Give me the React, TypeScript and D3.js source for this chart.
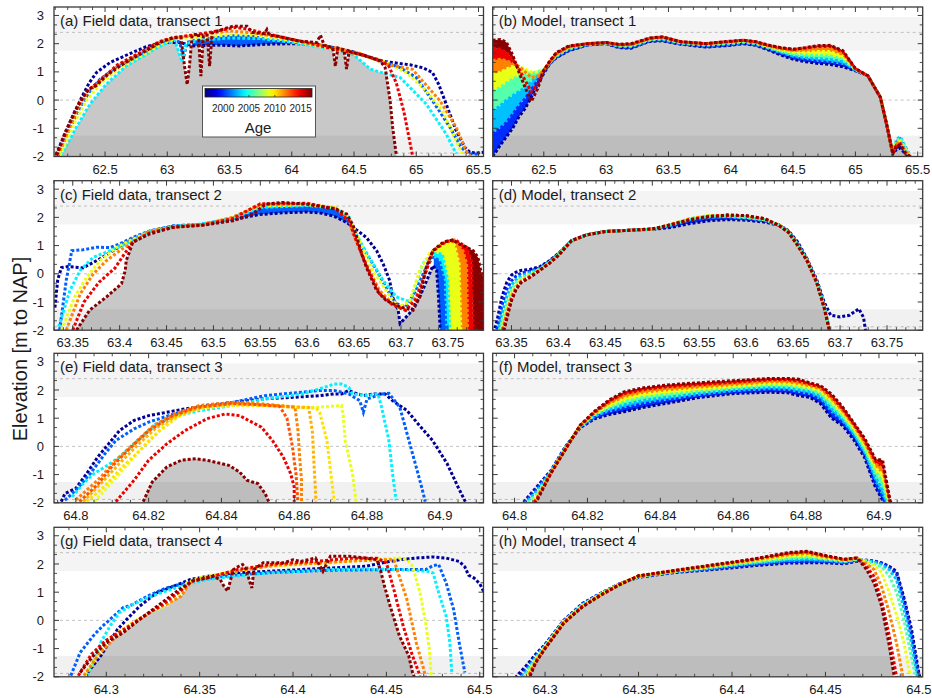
import React from 'react';
import * as d3 from 'd3';

type Pt = [number, number];

// ================= colour scale (age) =================
const AGE_MIN = 1996.5;
const AGE_MAX = 2017.2;
const ageTicks = [2000, 2005, 2010, 2015];

// ================= axis ticks =================
const yMajor = [-2, -1, 0, 1, 2, 3];
const ticksT1 = [62.5, 63, 63.5, 64, 64.5, 65, 65.5];
const ticksT2 = [63.35, 63.4, 63.45, 63.5, 63.55, 63.6, 63.65, 63.7, 63.75];
const ticksT3 = [64.8, 64.82, 64.84, 64.86, 64.88, 64.9];
const ticksT4 = [64.3, 64.35, 64.4, 64.45, 64.5];

// ================= (a) Field data, transect 1 =================
const fieldAYears = [1997, 2001, 2004, 2009, 2012, 2015, 2017];
const a1997: Pt[] = [[62.106,-1.93],[62.178,-1.2],[62.26,-0.38],[62.325,0.21],[62.374,0.62],[62.432,0.98],[62.54,1.33],[62.7,1.65],[62.83,1.89],[62.97,2.05],[63.1,2.04],[63.21,1.92],[63.4,1.95],[63.58,1.92],[63.8,1.98],[64.01,2.0],[64.2,1.98],[64.47,1.74],[64.6,1.56],[64.71,1.39],[64.81,1.33],[64.95,1.25],[65.05,1.15],[65.13,0.98],[65.18,0.56],[65.24,-0.14],[65.32,-1.08],[65.39,-1.67],[65.43,-1.85],[65.48,-1.88],[65.54,-1.85]];
const a2001: Pt[] = [[62.125,-1.96],[62.22,-0.96],[62.3,-0.26],[62.38,0.33],[62.46,0.74],[62.59,1.15],[62.78,1.62],[62.94,1.98],[63.05,2.15],[63.1,2.05],[63.13,1.5],[63.16,2.05],[63.21,2.1],[63.37,2.2],[63.53,2.28],[63.69,2.25],[63.8,2.15],[64.06,2.04],[64.33,1.86],[64.55,1.62],[64.68,1.45],[64.87,1.15],[65.0,0.8],[65.13,-0.02],[65.27,-0.96],[65.36,-1.67],[65.42,-1.9],[65.5,-1.92]];
const a2004: Pt[] = [[62.15,-1.96],[62.27,-0.96],[62.38,-0.14],[62.51,0.56],[62.67,1.21],[62.83,1.62],[62.96,1.96],[63.06,2.12],[63.1,1.6],[63.12,1.35],[63.15,2.0],[63.25,2.12],[63.5,2.2],[63.75,2.18],[64.0,2.05],[64.3,1.82],[64.5,1.6],[64.63,1.1],[64.7,1.0],[64.87,0.8],[65.08,-0.14],[65.24,-1.2],[65.32,-1.9]];
const a2009: Pt[] = [[62.14,-1.96],[62.25,-0.85],[62.35,-0.02],[62.46,0.56],[62.62,1.15],[62.81,1.62],[62.97,2.04],[63.07,2.19],[63.2,2.2],[63.5,2.32],[63.7,2.3],[64.0,2.1],[64.3,1.85],[64.55,1.6],[64.73,1.39],[64.92,0.98],[65.08,0.33],[65.21,-0.38],[65.32,-1.44],[65.37,-1.9]];
const a2012: Pt[] = [[62.12,-1.96],[62.2,-1.1],[62.28,-0.3],[62.36,0.3],[62.45,0.65],[62.6,1.2],[62.8,1.7],[62.95,2.08],[63.07,2.22],[63.2,2.28],[63.5,2.45],[63.7,2.38],[64.0,2.15],[64.3,1.9],[64.55,1.65],[64.76,1.27],[64.97,1.09],[65.05,0.68],[65.19,-0.02],[65.32,-0.96],[65.4,-1.79],[65.43,-1.96]];
const a2015: Pt[] = [[62.11,-1.96],[62.19,-1.1],[62.27,-0.3],[62.35,0.3],[62.44,0.62],[62.6,1.25],[62.78,1.68],[62.94,2.08],[63.05,2.22],[63.2,2.3],[63.4,2.45],[63.55,2.58],[63.66,2.5],[63.8,2.35],[64.06,2.1],[64.3,1.85],[64.55,1.62],[64.72,1.4],[64.78,1.2],[64.84,0.6],[64.9,-0.4],[64.94,-1.3],[64.97,-1.96]];
const a2017: Pt[] = [[62.11,-1.96],[62.18,-1.14],[62.26,-0.38],[62.33,0.15],[62.37,0.39],[62.43,0.51],[62.51,0.86],[62.62,1.21],[62.78,1.62],[62.94,2.04],[63.05,2.21],[63.11,2.21],[63.14,1.15],[63.16,0.55],[63.18,1.3],[63.2,2.3],[63.25,2.35],[63.27,0.85],[63.29,2.3],[63.32,2.3],[63.34,1.2],[63.36,2.38],[63.48,2.56],[63.53,2.62],[63.64,2.62],[63.68,2.4],[63.78,2.35],[63.8,2.5],[63.82,2.3],[63.88,2.27],[64.06,2.09],[64.2,2.04],[64.23,2.3],[64.26,1.95],[64.33,1.85],[64.35,1.2],[64.37,1.85],[64.42,1.78],[64.44,1.1],[64.46,1.72],[64.6,1.56],[64.71,1.39],[64.75,1.15],[64.79,-0.02],[64.81,-0.96],[64.84,-1.96]];

// ================= (c) Field data, transect 2 =================
const fieldCYears = [1997, 2001, 2004, 2009, 2012, 2015, 2017];
const c1997: Pt[] = [[63.331,-1.2],[63.334,-0.2],[63.338,0.22],[63.345,0.26],[63.361,0.21],[63.379,0.53],[63.393,0.82],[63.407,1.12],[63.432,1.5],[63.457,1.68],[63.486,1.74],[63.521,1.92],[63.549,2.1],[63.574,2.16],[63.599,2.19],[63.613,2.16],[63.628,2.05],[63.642,1.82],[63.649,1.65],[63.663,1.29],[63.674,0.82],[63.681,0.35],[63.688,-0.24],[63.691,-0.82],[63.697,-1.29],[63.699,-1.76],[63.709,-1.41],[63.72,-0.82],[63.729,-0.12],[63.734,0.29],[63.738,0.12],[63.74,-0.82],[63.742,-2.1]];
const c2001: Pt[] = [[63.336,-2.0],[63.343,-0.24],[63.349,0.82],[63.361,0.85],[63.375,0.94],[63.39,0.93],[63.4,1.06],[63.415,1.3],[63.432,1.52],[63.457,1.7],[63.486,1.75],[63.52,1.95],[63.549,2.33],[63.575,2.38],[63.6,2.4],[63.628,2.33],[63.642,2.0],[63.649,1.59],[63.659,0.94],[63.674,0.12],[63.688,-0.71],[63.695,-1.06],[63.705,-1.18],[63.716,-0.59],[63.727,0.24],[63.734,0.59],[63.741,0.47],[63.746,-0.24],[63.748,-2.1]];
const c2004: Pt[] = [[63.335,-1.88],[63.347,-0.59],[63.358,0.12],[63.372,0.59],[63.39,0.82],[63.407,1.06],[63.432,1.5],[63.457,1.68],[63.486,1.76],[63.52,1.96],[63.55,2.35],[63.6,2.42],[63.63,2.33],[63.645,2.0],[63.652,1.41],[63.666,0.59],[63.681,-0.24],[63.695,-0.82],[63.71,-1.0],[63.723,0.35],[63.734,0.71],[63.744,0.71],[63.75,-0.24],[63.752,-2.1]];
const c2009: Pt[] = [[63.338,-2.0],[63.352,-0.82],[63.365,-0.12],[63.379,0.47],[63.397,0.94],[63.411,1.18],[63.432,1.5],[63.46,1.66],[63.49,1.74],[63.52,1.98],[63.55,2.4],[63.6,2.45],[63.63,2.35],[63.645,2.0],[63.654,1.29],[63.67,0.12],[63.684,-0.59],[63.697,-1.18],[63.709,-1.0],[63.72,0.12],[63.73,0.71],[63.741,1.0],[63.752,1.12],[63.757,1.06],[63.762,0.35],[63.764,-2.1]];
const c2012: Pt[] = [[63.343,-2.0],[63.358,-0.71],[63.372,0.0],[63.386,0.47],[63.4,0.82],[63.414,1.12],[63.432,1.5],[63.46,1.67],[63.49,1.75],[63.52,2.0],[63.55,2.45],[63.6,2.48],[63.63,2.32],[63.645,1.9],[63.649,1.41],[63.663,0.35],[63.677,-0.59],[63.691,-1.06],[63.705,-1.29],[63.716,-0.82],[63.727,0.12],[63.734,0.82],[63.748,1.12],[63.757,1.2],[63.766,0.82],[63.77,0.35],[63.771,-2.1]];
const c2015: Pt[] = [[63.35,-2.0],[63.362,-1.0],[63.378,-0.3],[63.395,0.2],[63.405,0.7],[63.414,1.12],[63.432,1.45],[63.46,1.66],[63.49,1.74],[63.52,1.95],[63.55,2.48],[63.6,2.5],[63.63,2.3],[63.645,1.85],[63.652,1.2],[63.663,0.3],[63.677,-0.7],[63.691,-1.1],[63.705,-1.3],[63.716,-0.9],[63.727,0.1],[63.734,0.8],[63.748,1.15],[63.759,1.18],[63.77,0.94],[63.775,0.47],[63.777,-2.1]];
const c2017: Pt[] = [[63.354,-2.0],[63.368,-1.29],[63.386,-0.82],[63.402,-0.35],[63.406,0.12],[63.407,0.47],[63.411,0.82],[63.414,1.12],[63.432,1.41],[63.457,1.65],[63.486,1.71],[63.521,1.88],[63.542,2.12],[63.556,2.47],[63.574,2.53],[63.599,2.47],[63.62,2.35],[63.631,2.29],[63.642,2.12],[63.649,1.71],[63.654,1.18],[63.658,0.71],[63.663,0.24],[63.674,-0.59],[63.684,-0.94],[63.699,-1.18],[63.713,-1.29],[63.72,-0.82],[63.727,0.24],[63.734,0.82],[63.745,1.12],[63.755,1.2],[63.762,1.06],[63.77,0.94],[63.777,0.82],[63.782,0.59],[63.785,0.12],[63.79,-0.3]];

// ================= (e) Field data, transect 3 =================
const fieldEYears = [1997, 2001, 2004, 2009, 2010, 2011, 2012, 2013, 2015, 2017];
const e1997: Pt[] = [[64.796,-1.96],[64.797,-1.67],[64.8,-1.49],[64.803,-0.96],[64.806,-0.38],[64.809,0.09],[64.812,0.56],[64.816,0.92],[64.82,1.09],[64.825,1.21],[64.83,1.33],[64.836,1.45],[64.843,1.56],[64.851,1.68],[64.86,1.74],[64.867,1.8],[64.871,1.86],[64.873,1.86],[64.875,1.98],[64.876,1.92],[64.879,1.8],[64.882,1.86],[64.885,1.86],[64.887,1.62],[64.891,1.27],[64.894,0.8],[64.898,0.21],[64.902,-0.61],[64.905,-1.44],[64.907,-1.96]];
const e2001: Pt[] = [[64.797,-1.91],[64.8,-1.55],[64.804,-0.96],[64.808,-0.26],[64.811,0.21],[64.816,0.62],[64.82,0.86],[64.827,1.15],[64.834,1.39],[64.843,1.56],[64.852,1.8],[64.862,1.92],[64.867,1.98],[64.871,1.98],[64.875,1.86],[64.878,1.62],[64.879,1.21],[64.88,1.68],[64.884,1.86],[64.886,1.88],[64.889,1.39],[64.891,0.45],[64.893,-0.49],[64.895,-1.44],[64.896,-1.96]];
const e2004: Pt[] = [[64.799,-1.79],[64.802,-1.32],[64.805,-0.96],[64.808,-0.73],[64.812,-0.38],[64.817,0.21],[64.822,0.8],[64.828,1.09],[64.834,1.27],[64.843,1.45],[64.852,1.68],[64.862,1.86],[64.867,2.04],[64.871,2.21],[64.873,2.21],[64.875,2.09],[64.876,1.86],[64.88,1.8],[64.883,1.86],[64.884,1.39],[64.886,0.21],[64.887,-0.96],[64.888,-1.91]];
const e2009: Pt[] = [[64.805,-1.96],[64.808,-1.55],[64.812,-0.96],[64.816,-0.38],[64.82,0.21],[64.825,0.8],[64.83,1.21],[64.836,1.39],[64.843,1.45],[64.852,1.47],[64.862,1.39],[64.867,1.39],[64.873,1.45],[64.8735,1.04],[64.874,0.21],[64.876,-0.96],[64.877,-1.96]];
const e2010: Pt[] = [[64.803,-1.96],[64.808,-1.4],[64.813,-0.7],[64.818,-0.1],[64.823,0.55],[64.828,1.05],[64.834,1.35],[64.843,1.47],[64.852,1.44],[64.862,1.37],[64.866,1.36],[64.867,1.2],[64.869,0.2],[64.87,-0.9],[64.871,-1.96]];
const e2011: Pt[] = [[64.802,-1.96],[64.807,-1.3],[64.812,-0.6],[64.817,0.05],[64.822,0.65],[64.828,1.1],[64.835,1.4],[64.843,1.52],[64.852,1.46],[64.86,1.4],[64.864,1.38],[64.865,0.5],[64.8655,-0.8],[64.866,-1.96]];
const e2012: Pt[] = [[64.8,-1.9],[64.806,-1.2],[64.811,-0.5],[64.816,0.1],[64.821,0.7],[64.827,1.15],[64.834,1.45],[64.843,1.56],[64.852,1.5],[64.8602,1.39],[64.861,0.6],[64.8615,-0.4],[64.862,-1.2],[64.862,-1.96]];
const e2013: Pt[] = [[64.801,-1.96],[64.806,-1.35],[64.81,-0.7],[64.815,-0.05],[64.82,0.55],[64.826,1.05],[64.833,1.38],[64.843,1.52],[64.85,1.48],[64.856,1.42],[64.858,1.0],[64.8595,0.0],[64.8605,-1.0],[64.861,-1.96]];
const e2015: Pt[] = [[64.811,-1.96],[64.816,-1.2],[64.82,-0.49],[64.825,0.09],[64.83,0.56],[64.836,0.98],[64.841,1.15],[64.845,1.09],[64.851,0.68],[64.854,0.21],[64.857,-0.38],[64.859,-0.96],[64.86,-1.44],[64.86,-1.96]];
const e2017: Pt[] = [[64.8185,-1.96],[64.821,-1.26],[64.825,-0.73],[64.829,-0.49],[64.833,-0.44],[64.836,-0.49],[64.842,-0.67],[64.845,-0.91],[64.847,-1.2],[64.85,-1.32],[64.852,-1.67],[64.853,-1.96]];

// ================= (g) Field data, transect 4 =================
const fieldGYears = [1997, 2001, 2004, 2009, 2012, 2015, 2017];
const g1997: Pt[] = [[64.29,-1.85],[64.297,-1.26],[64.306,-0.32],[64.311,0.04],[64.318,0.51],[64.327,0.98],[64.336,1.21],[64.345,1.45],[64.354,1.56],[64.368,1.68],[64.386,1.74],[64.404,1.8],[64.421,1.86],[64.439,1.92],[64.448,2.04],[64.457,2.15],[64.466,2.21],[64.475,2.25],[64.482,2.21],[64.489,2.09],[64.492,1.9],[64.494,1.6],[64.497,1.5],[64.5,1.3],[64.503,0.9]];
const g2001: Pt[] = [[64.281,-1.96],[64.286,-1.14],[64.293,-0.55],[64.298,-0.2],[64.304,0.15],[64.309,0.45],[64.314,0.56],[64.322,0.86],[64.332,1.15],[64.343,1.33],[64.35,1.45],[64.368,1.6],[64.39,1.7],[64.42,1.78],[64.45,1.8],[64.471,1.8],[64.475,1.94],[64.478,1.98],[64.482,1.33],[64.486,0.39],[64.489,-0.79],[64.492,-1.85]];
const g2004: Pt[] = [[64.29,-1.96],[64.293,-1.49],[64.297,-0.79],[64.302,-0.2],[64.307,0.27],[64.314,0.56],[64.322,0.8],[64.332,1.04],[64.343,1.27],[64.354,1.45],[64.368,1.56],[64.386,1.68],[64.404,1.74],[64.421,1.8],[64.439,1.82],[64.457,1.8],[64.472,1.74],[64.475,1.68],[64.478,0.98],[64.482,0.15],[64.484,-0.79],[64.485,-1.85]];
const g2009: Pt[] = [[64.289,-1.96],[64.297,-1.02],[64.306,-0.44],[64.314,-0.08],[64.323,0.27],[64.332,0.51],[64.339,0.86],[64.343,1.33],[64.35,1.51],[64.368,1.74],[64.386,1.92],[64.404,1.98],[64.421,2.04],[64.439,2.15],[64.457,2.21],[64.461,2.15],[64.464,1.92],[64.468,0.98],[64.471,-0.08],[64.473,-1.02],[64.474,-1.96]];
const g2012: Pt[] = [[64.288,-1.96],[64.296,-1.2],[64.305,-0.6],[64.315,-0.1],[64.325,0.35],[64.333,0.6],[64.34,0.85],[64.345,1.35],[64.352,1.5],[64.37,1.75],[64.39,1.95],[64.41,2.02],[64.43,2.1],[64.448,2.15],[64.454,2.15],[64.461,0.74],[64.466,-0.79],[64.47,-1.73],[64.471,-2.02]];
const g2015: Pt[] = [[64.285,-1.96],[64.292,-1.2],[64.3,-0.7],[64.31,-0.3],[64.32,0.15],[64.33,0.55],[64.338,0.95],[64.346,1.4],[64.355,1.52],[64.37,1.8],[64.39,2.0],[64.41,2.08],[64.43,2.2],[64.445,2.2],[64.45,2.04],[64.454,1.09],[64.459,-0.2],[64.464,-1.26],[64.468,-1.96]];
const g2017: Pt[] = [[64.286,-1.85],[64.293,-1.26],[64.3,-0.79],[64.309,-0.44],[64.318,0.04],[64.325,0.39],[64.332,0.74],[64.339,1.09],[64.346,1.39],[64.354,1.51],[64.357,1.56],[64.361,1.45],[64.363,1.21],[64.365,1.04],[64.368,1.8],[64.371,1.92],[64.373,1.98],[64.375,1.8],[64.377,1.33],[64.378,1.15],[64.379,1.8],[64.384,2.04],[64.395,2.04],[64.4,2.15],[64.404,2.09],[64.412,2.21],[64.416,1.74],[64.42,2.27],[64.43,2.27],[64.439,2.21],[64.445,2.15],[64.447,1.74],[64.449,1.21],[64.452,0.51],[64.457,-0.55],[64.462,-1.26],[64.464,-1.85],[64.465,-2.02]];

// ================= Model runs (b, d, f, h) =================
const modelYears = [1997, 2000, 2003, 2006, 2009, 2012, 2015, 2017];

// (b) Model, transect 1
const bX = [62.09,62.15,62.2,62.25,62.3,62.35,62.4,62.45,62.5,62.55,62.6,62.7,62.85,63.0,63.1,63.2,63.35,63.45,63.6,63.8,64.0,64.1,64.2,64.3,64.4,64.5,64.6,64.7,64.8,64.9,65.0,65.1,65.2,65.25,65.3,65.33,65.36,65.4,65.45];
const b1997 = [-2.0,-1.6,-1.3,-1.0,-0.6,-0.3,0.1,0.55,0.95,1.3,1.5,1.75,1.95,2.0,1.86,1.84,2.08,2.1,1.98,1.88,1.94,2.0,1.94,1.78,1.6,1.45,1.36,1.3,1.26,1.18,1.04,0.86,0.1,-0.85,-1.9,-1.75,-1.7,-1.9,-2.05];
const b2000 = [-1.2,-1.0,-0.8,-0.5,-0.2,0.05,0.35,0.7,1.0,1.31,1.52,1.77,1.96,2.01,1.88,1.86,2.1,2.12,2.0,1.9,1.96,2.02,1.96,1.81,1.64,1.5,1.42,1.37,1.33,1.26,1.05,0.86,0.1,-0.85,-1.9,-1.5,-1.4,-1.75,-2.05];
const b2003 = [-0.4,-0.2,0.0,0.15,0.3,0.45,0.65,0.85,1.05,1.33,1.55,1.8,1.97,2.02,1.9,1.89,2.12,2.15,2.01,1.93,1.99,2.04,1.98,1.84,1.69,1.57,1.51,1.47,1.44,1.36,1.06,0.86,0.1,-0.85,-1.9,-1.4,-1.3,-1.65,-2.05];
const b2006 = [0.3,0.45,0.6,0.75,0.85,0.9,0.95,1.0,1.08,1.34,1.58,1.83,1.98,2.03,1.93,1.92,2.14,2.18,2.03,1.96,2.02,2.07,2.01,1.87,1.74,1.64,1.6,1.58,1.56,1.46,1.08,0.86,0.1,-0.85,-1.9,-1.45,-1.35,-1.7,-2.05];
const b2009 = [0.9,1.0,1.1,1.2,1.2,1.1,1.0,1.0,1.08,1.35,1.6,1.86,1.99,2.03,1.95,1.95,2.16,2.21,2.05,1.99,2.05,2.1,2.04,1.9,1.78,1.7,1.7,1.72,1.72,1.55,1.09,0.86,0.1,-0.85,-1.9,-1.5,-1.45,-1.75,-2.05];
const b2012 = [1.4,1.45,1.4,1.3,1.2,1.0,0.8,0.85,1.05,1.36,1.63,1.88,2.0,2.04,1.96,1.97,2.18,2.23,2.06,2.0,2.07,2.12,2.06,1.92,1.82,1.76,1.8,1.84,1.85,1.64,1.1,0.86,0.1,-0.85,-1.9,-1.55,-1.5,-1.8,-2.05];
const b2015 = [1.85,1.8,1.7,1.45,1.1,0.7,0.3,0.55,1.05,1.38,1.66,1.9,2.0,2.04,1.97,1.98,2.19,2.24,2.07,2.0,2.08,2.12,2.07,1.94,1.85,1.8,1.85,1.91,1.92,1.71,1.11,0.86,0.1,-0.85,-1.9,-1.6,-1.55,-1.85,-2.05];
const b2017 = [2.12,2.15,2.05,1.6,1.0,0.45,-0.05,0.4,1.05,1.4,1.68,1.92,2.0,2.04,1.98,2.0,2.2,2.24,2.07,2.0,2.09,2.12,2.07,1.95,1.86,1.8,1.86,1.93,1.94,1.75,1.12,0.86,0.1,-0.85,-1.9,-1.62,-1.6,-1.88,-2.05];

// (d) Model, transect 2
const dX = [63.331,63.335,63.34,63.345,63.35,63.355,63.36,63.37,63.38,63.39,63.4,63.414,63.43,63.45,63.48,63.5,63.52,63.54,63.56,63.58,63.6,63.62,63.635,63.645,63.655,63.665,63.675,63.683,63.69,63.7,63.71,63.72,63.725,63.728];
const d1997 = [-2.1,-1.6,-0.8,-0.3,-0.05,0.06,0.12,0.16,0.25,0.45,0.72,1.17,1.38,1.5,1.55,1.58,1.64,1.78,1.88,1.92,1.9,1.83,1.72,1.53,1.12,0.52,-0.2,-1.0,-1.47,-1.53,-1.47,-1.24,-1.55,-2.2];
const d2000 = [-2.3,-1.9,-1.1,-0.55,-0.25,-0.08,0.02,0.1,0.21,0.43,0.7,1.17,1.38,1.5,1.55,1.58,1.69,1.87,1.96,1.98,1.95,1.88,1.73,1.51,1.06,0.49,-0.25,-1.1,-2.2,-2.6,-2.6,-2.6,-2.6,-2.6];
const d2003 = [-2.4,-2.1,-1.4,-0.8,-0.4,-0.2,-0.08,0.05,0.18,0.41,0.69,1.17,1.38,1.5,1.55,1.58,1.72,1.92,2.02,2.02,1.98,1.9,1.73,1.5,1.04,0.48,-0.27,-1.12,-2.2,-2.6,-2.6,-2.6,-2.6,-2.6];
const d2006 = [-2.5,-2.2,-1.7,-1.05,-0.55,-0.3,-0.16,0.0,0.16,0.39,0.68,1.17,1.38,1.5,1.55,1.58,1.75,1.96,2.06,2.05,2.0,1.92,1.72,1.49,1.02,0.47,-0.28,-1.15,-2.2,-2.6,-2.6,-2.6,-2.6,-2.6];
const d2009 = [-2.6,-2.3,-1.9,-1.25,-0.7,-0.4,-0.22,-0.04,0.14,0.38,0.67,1.17,1.38,1.5,1.55,1.58,1.76,1.96,2.07,2.07,2.03,1.93,1.72,1.48,1.01,0.46,-0.29,-1.17,-2.2,-2.6,-2.6,-2.6,-2.6,-2.6];
const d2012 = [-2.6,-2.4,-2.05,-1.4,-0.8,-0.47,-0.27,-0.08,0.13,0.37,0.66,1.17,1.38,1.5,1.55,1.58,1.75,1.94,2.05,2.08,2.05,1.94,1.72,1.47,1.0,0.45,-0.3,-1.18,-2.2,-2.6,-2.6,-2.6,-2.6,-2.6];
const d2015 = [-2.6,-2.5,-2.2,-1.5,-0.9,-0.52,-0.3,-0.1,0.12,0.36,0.65,1.17,1.38,1.5,1.55,1.59,1.74,1.92,2.03,2.08,2.06,1.95,1.71,1.47,1.0,0.45,-0.3,-1.2,-2.2,-2.6,-2.6,-2.6,-2.6,-2.6];
const d2017 = [-2.6,-2.5,-2.3,-1.6,-0.95,-0.55,-0.32,-0.12,0.12,0.36,0.65,1.18,1.38,1.5,1.55,1.59,1.74,1.91,2.02,2.08,2.06,1.95,1.71,1.47,1.0,0.45,-0.3,-1.2,-2.2,-2.6,-2.6,-2.6,-2.6,-2.6];

// (f) Model, transect 3
const fX = [64.8,64.803,64.806,64.81,64.814,64.818,64.822,64.826,64.83,64.835,64.84,64.845,64.85,64.855,64.86,64.865,64.87,64.875,64.878,64.881,64.884,64.887,64.89,64.893,64.896,64.899,64.901,64.903,64.905];
const f1997 = [-2.4,-1.9,-1.45,-0.85,0.0,0.66,0.98,1.13,1.23,1.37,1.49,1.6,1.72,1.8,1.87,1.9,1.92,1.9,1.8,1.74,1.51,1.0,0.74,0.25,-0.38,-1.44,-1.91,-2.4,-2.5];
const f2000 = [-2.4,-1.95,-1.5,-0.87,-0.02,0.68,1.03,1.22,1.35,1.5,1.6,1.69,1.79,1.86,1.93,1.97,2.0,1.98,1.9,1.84,1.64,1.18,0.86,0.37,-0.28,-1.3,-1.8,-2.4,-2.5];
const f2003 = [-2.45,-2.0,-1.6,-0.89,-0.04,0.7,1.08,1.3,1.47,1.62,1.71,1.78,1.87,1.93,1.99,2.04,2.08,2.06,2.0,1.94,1.77,1.34,0.97,0.48,-0.18,-1.1,-1.55,-2.35,-2.5];
const f2006 = [-2.5,-2.1,-1.7,-0.9,-0.05,0.71,1.12,1.39,1.58,1.74,1.82,1.88,1.95,2.0,2.06,2.11,2.16,2.14,2.09,2.02,1.88,1.48,1.08,0.58,-0.06,-0.9,-1.25,-2.25,-2.5];
const f2009 = [-2.5,-2.2,-1.8,-0.92,-0.06,0.72,1.16,1.47,1.7,1.85,1.93,1.98,2.04,2.08,2.13,2.18,2.23,2.22,2.17,2.09,1.97,1.6,1.18,0.67,0.06,-0.75,-1.0,-2.15,-2.5];
const f2012 = [-2.5,-2.3,-1.85,-0.93,-0.08,0.73,1.19,1.55,1.8,1.95,2.03,2.08,2.12,2.17,2.21,2.26,2.3,2.3,2.26,2.16,2.05,1.7,1.27,0.76,0.16,-0.62,-0.78,-2.05,-2.5];
const f2015 = [-2.5,-2.35,-1.9,-0.94,-0.09,0.74,1.22,1.61,1.88,2.02,2.1,2.16,2.2,2.24,2.28,2.33,2.37,2.37,2.33,2.21,2.1,1.78,1.34,0.81,0.23,-0.52,-0.6,-1.95,-2.5];
const f2017 = [-2.5,-2.4,-1.96,-0.95,-0.1,0.75,1.25,1.65,1.93,2.07,2.15,2.21,2.25,2.29,2.33,2.37,2.41,2.41,2.38,2.25,2.15,1.85,1.4,0.85,0.3,-0.45,-0.49,-1.9,-2.5];

// (h) Model, transect 4
const hX = [64.28,64.285,64.29,64.295,64.3,64.31,64.32,64.33,64.34,64.35,64.37,64.39,64.41,64.43,64.44,64.45,64.46,64.467,64.472,64.476,64.48,64.484,64.488,64.492,64.496,64.5,64.503];
const h1997 = [-2.5,-1.96,-1.6,-1.2,-0.85,0.0,0.6,0.97,1.3,1.53,1.7,1.8,1.93,2.03,2.04,2.04,2.01,2.1,2.13,2.1,2.04,1.92,1.74,0.8,-0.3,-1.9,-2.5];
const h2000 = [-2.5,-2.1,-1.7,-1.25,-0.87,-0.02,0.58,0.96,1.3,1.54,1.72,1.83,1.97,2.08,2.1,2.09,2.04,2.13,2.13,2.1,2.03,1.88,1.65,0.7,-0.5,-2.1,-2.5];
const h2003 = [-2.5,-2.2,-1.8,-1.3,-0.9,-0.03,0.56,0.95,1.29,1.55,1.73,1.86,2.01,2.14,2.17,2.13,2.07,2.15,2.12,2.07,1.98,1.8,1.45,0.4,-0.8,-2.3,-2.5];
const h2006 = [-2.5,-2.3,-1.9,-1.35,-0.92,-0.05,0.54,0.94,1.29,1.56,1.74,1.89,2.05,2.2,2.24,2.17,2.1,2.17,2.1,2.02,1.9,1.6,1.0,0.0,-1.3,-2.5,-2.5];
const h2009 = [-2.5,-2.4,-2.0,-1.4,-0.95,-0.06,0.52,0.93,1.28,1.57,1.75,1.92,2.09,2.27,2.31,2.21,2.13,2.19,2.06,1.95,1.7,1.0,0.2,-0.8,-2.2,-2.5,-2.5];
const h2012 = [-2.5,-2.5,-2.1,-1.45,-0.97,-0.07,0.5,0.92,1.28,1.57,1.76,1.94,2.12,2.33,2.38,2.25,2.15,2.2,2.0,1.8,1.2,0.3,-0.8,-2.2,-2.5,-2.5,-2.5];
const h2015 = [-2.5,-2.5,-2.2,-1.48,-0.99,-0.09,0.49,0.91,1.27,1.58,1.77,1.96,2.15,2.38,2.43,2.28,2.16,2.21,1.9,1.55,0.7,-0.5,-2.0,-2.5,-2.5,-2.5,-2.5];
const h2017 = [-2.5,-2.5,-2.3,-1.5,-1.0,-0.1,0.48,0.9,1.27,1.58,1.78,1.97,2.16,2.4,2.45,2.3,2.17,2.21,1.8,1.33,0.51,-0.85,-2.5,-2.5,-2.5,-2.5,-2.5];

// ================= helpers =================
function jet(t: number): string {
  const c = (v: number) => Math.round(255 * Math.max(0, Math.min(1, v)));
  const r = c(1.5 - Math.abs(4 * t - 3));
  const g = c(1.5 - Math.abs(4 * t - 2));
  const b = c(1.5 - Math.abs(4 * t - 1));
  return `rgb(${r},${g},${b})`;
}
const ageColor = (y: number) => jet((y - AGE_MIN) / (AGE_MAX - AGE_MIN));
const zip = (xs: number[], ys: number[]): Pt[] => xs.map((x, i) => [x, ys[i]] as Pt);

// layout
const COL_X: [number, number][] = [[54, 483.5], [492.7, 922.7]];
const ROW_Y = [7, 180.7, 353.3, 527.3];
const PH = 149.5;
const Y_DOMAIN: [number, number] = [-2, 3.3];

interface PanelDef {
  key: string; title: string; col: number; row: number;
  domain: [number, number]; ticks: number[]; minor: number;
  years: number[]; series: Pt[][];
  fillYears: number[]; fillWindows: [number, number][];
  legend?: boolean;
}

const panels: PanelDef[] = [
  { key: 'a', title: '(a) Field data, transect 1', col: 0, row: 0, domain: [62.09, 65.54], ticks: ticksT1, minor: 0.1,
    years: fieldAYears, series: [a1997, a2001, a2004, a2009, a2012, a2015, a2017], fillYears: [2001], fillWindows: [[63.2, 64.2]], legend: true },
  { key: 'b', title: '(b) Model, transect 1', col: 1, row: 0, domain: [62.09, 65.54], ticks: ticksT1, minor: 0.1,
    years: modelYears, series: [b1997, b2000, b2003, b2006, b2009, b2012, b2015, b2017].map(s => zip(bX, s)), fillYears: modelYears, fillWindows: [[62, 66]] },
  { key: 'c', title: '(c) Field data, transect 2', col: 0, row: 1, domain: [63.33, 63.788], ticks: ticksT2, minor: 0.01,
    years: fieldCYears, series: [c1997, c2001, c2004, c2009, c2012, c2015, c2017], fillYears: fieldCYears, fillWindows: [[63.5, 63.66], [63.735, 63.8]] },
  { key: 'd', title: '(d) Model, transect 2', col: 1, row: 1, domain: [63.33, 63.788], ticks: ticksT2, minor: 0.01,
    years: modelYears, series: [d1997, d2000, d2003, d2006, d2009, d2012, d2015, d2017].map(s => zip(dX, s)), fillYears: modelYears, fillWindows: [[63, 64]] },
  { key: 'e', title: '(e) Field data, transect 3', col: 0, row: 2, domain: [64.794, 64.912], ticks: ticksT3, minor: 0.005,
    years: fieldEYears, series: [e1997, e2001, e2004, e2009, e2010, e2011, e2012, e2013, e2015, e2017], fillYears: [], fillWindows: [] },
  { key: 'f', title: '(f) Model, transect 3', col: 1, row: 2, domain: [64.794, 64.912], ticks: ticksT3, minor: 0.005,
    years: modelYears, series: [f1997, f2000, f2003, f2006, f2009, f2012, f2015, f2017].map(s => zip(fX, s)), fillYears: modelYears, fillWindows: [[64, 65]] },
  { key: 'g', title: '(g) Field data, transect 4', col: 0, row: 3, domain: [64.272, 64.502], ticks: ticksT4, minor: 0.01,
    years: fieldGYears, series: [g1997, g2001, g2004, g2009, g2012, g2015, g2017], fillYears: [], fillWindows: [] },
  { key: 'h', title: '(h) Model, transect 4', col: 1, row: 3, domain: [64.272, 64.502], ticks: ticksT4, minor: 0.01,
    years: modelYears, series: [h1997, h2000, h2003, h2006, h2009, h2012, h2015, h2017].map(s => zip(hX, s)), fillYears: modelYears, fillWindows: [[64, 65]] },
];

const FONT = "'Liberation Sans', Arial, Helvetica, sans-serif";
const fmt = (v: number) => String(+v.toFixed(4));

function Legend() {
  const cx = d3.scaleLinear().domain([AGE_MIN, AGE_MAX]).range([205, 312]);
  return (
    <g>
      <rect x={202.5} y={86} width={113} height={51} fill="#fff" stroke="#555" strokeWidth={1} />
      <rect x={205} y={88.5} width={107} height={8.5} fill="url(#jetGrad)" stroke="#222" strokeWidth={0.8} />
      {ageTicks.map(t => (
        <line key={'lt' + t} x1={cx(t)} x2={cx(t)} y1={95} y2={97} stroke="#333" strokeWidth={0.8} />
      ))}
      {ageTicks.map(t => (
        <text key={'ll' + t} x={cx(t)} y={112} fontSize={10} textAnchor="middle" fill="#222">{t}</text>
      ))}
      <text x={258} y={132.5} fontSize={15} textAnchor="middle" fill="#222">Age</text>
    </g>
  );
}

function Panel({ p }: { p: PanelDef }) {
  const [x0, x1] = COL_X[p.col];
  const top = ROW_Y[p.row];
  const bottom = top + PH;
  const xs = d3.scaleLinear().domain(p.domain).range([x0, x1]);
  const ys = d3.scaleLinear().domain(Y_DOMAIN).range([bottom, top]);
  const line = d3.line<Pt>().x(d => xs(d[0])).y(d => ys(d[1]));
  const bot = bottom + 20;
  const toPx = (s: Pt[]) => s.map(d => [xs(d[0]), ys(d[1])]);
  const polyD = (pts: number[][]) => 'M' + pts.map(q => q[0].toFixed(2) + ',' + q[1].toFixed(2)).join('L') + 'Z';
  const belowD = (s: Pt[]) => {
    const pts = toPx(s);
    const f = pts[0], l = pts[pts.length - 1];
    return polyD([...pts, [l[0], bot], [f[0], bot]]);
  };
  const aboveD = (s: Pt[]) => {
    const pts = toPx(s);
    const f = pts[0], l = pts[pts.length - 1];
    const L = x0 - 30, R = x1 + 30, T = top - 30;
    return polyD([[L, T], [L, bot], [f[0], bot], ...pts, [l[0], bot], [R, bot], [R, T]]);
  };
  const k = 'p' + p.key;

  // ground = region below all profiles (lowest envelope)
  let ground: React.ReactNode = <rect x={x0} y={top} width={x1 - x0} height={PH} fill="#c8c8c8" />;
  for (let i = p.series.length - 1; i >= 0; i--) {
    ground = <g clipPath={`url(#${k}-b${i})`}>{ground}</g>;
  }

  const minorX = d3.range(Math.ceil(p.domain[0] / p.minor - 1e-6) * p.minor, p.domain[1], p.minor)
    .filter(v => !p.ticks.some(t => Math.abs(t - v) < p.minor / 10));
  const minorY: number[] = [];
  for (let v = -2; v < 3.3; v += 1) {
    [1 / 3, 2 / 3].forEach(f => { if (v + f < 3.3) minorY.push(v + f); });
  }
  const majorX = p.ticks.filter(t => t >= p.domain[0] && t <= p.domain[1] + 1e-9);

  return (
    <g>
      <defs>
        <clipPath id={`${k}-clip`}><rect x={x0} y={top} width={x1 - x0} height={PH} /></clipPath>
        <clipPath id={`${k}-fw`}>
          {p.fillWindows.map((w, i) => (
            <rect key={i} x={xs(w[0])} y={top - 30} width={xs(w[1]) - xs(w[0])} height={PH + 60} />
          ))}
        </clipPath>
        {p.series.map((s, i) => (
          <clipPath id={`${k}-b${i}`} key={'b' + i}><path d={belowD(s)} /></clipPath>
        ))}
        {p.series.map((s, i) => (
          <clipPath id={`${k}-a${i}`} key={'a' + i}><path d={aboveD(s)} /></clipPath>
        ))}
      </defs>
      <rect x={x0} y={top} width={x1 - x0} height={PH} fill="#fff" />
      <rect x={x0} y={ys(2.94)} width={x1 - x0} height={ys(1.75) - ys(2.94)} fill="#f4f4f4" />
      {[2.4, 0, -1.88].map(v => (
        <line key={'dl' + v} x1={x0} x2={x1} y1={ys(v)} y2={ys(v)} stroke="#b4b4b4" strokeWidth={0.8} strokeDasharray="3 3" />
      ))}
      <g clipPath={`url(#${k}-clip)`}>
        {ground}
        <rect x={x0} y={ys(-1.26)} width={x1 - x0} height={bottom - ys(-1.26)} fill="#000" fillOpacity={0.055} />
        {p.fillWindows.length > 0 && (
          <g clipPath={`url(#${k}-fw)`}>
            {p.series.map((s, i) => (i > 0 && p.fillYears.includes(p.years[i])) ? (
              <g key={'f' + i} clipPath={`url(#${k}-a${i - 1})`}>
                <path d={belowD(s)} fill={ageColor(p.years[i])} />
              </g>
            ) : null)}
          </g>
        )}
        {p.series.map((s, i) => (
          <path key={'l' + i} d={line(s) || ''} fill="none" stroke={ageColor(p.years[i])}
            strokeWidth={3} strokeDasharray="3 2" />
        ))}
      </g>
      <rect x={x0} y={top} width={x1 - x0} height={PH} fill="none" stroke="#3a3a3a" strokeWidth={1.3} />
      {majorX.map(t => (
        <g key={'mx' + t}>
          <line x1={xs(t)} x2={xs(t)} y1={bottom} y2={bottom - 5} stroke="#3a3a3a" strokeWidth={1} />
          <line x1={xs(t)} x2={xs(t)} y1={top} y2={top + 5} stroke="#3a3a3a" strokeWidth={1} />
          <text x={xs(t)} y={bottom + 17} fontSize={13} textAnchor="middle" fill="#1a1a1a">{fmt(t)}</text>
        </g>
      ))}
      {minorX.map(t => (
        <g key={'nx' + t}>
          <line x1={xs(t)} x2={xs(t)} y1={bottom} y2={bottom - 3} stroke="#3a3a3a" strokeWidth={0.9} />
          <line x1={xs(t)} x2={xs(t)} y1={top} y2={top + 3} stroke="#3a3a3a" strokeWidth={0.9} />
        </g>
      ))}
      {yMajor.map(v => (
        <g key={'my' + v}>
          <line x1={x0} x2={x0 + 5} y1={ys(v)} y2={ys(v)} stroke="#3a3a3a" strokeWidth={1} />
          <line x1={x1} x2={x1 - 5} y1={ys(v)} y2={ys(v)} stroke="#3a3a3a" strokeWidth={1} />
          {p.col === 0 && (
            <text x={x0 - 10} y={ys(v)} dy="0.35em" fontSize={13} textAnchor="end" fill="#1a1a1a">{String(v)}</text>
          )}
        </g>
      ))}
      {minorY.map(v => (
        <g key={'ny' + v}>
          <line x1={x0} x2={x0 + 3} y1={ys(v)} y2={ys(v)} stroke="#3a3a3a" strokeWidth={0.9} />
          <line x1={x1} x2={x1 - 3} y1={ys(v)} y2={ys(v)} stroke="#3a3a3a" strokeWidth={0.9} />
        </g>
      ))}
      <text x={x0 + 6} y={top + 19} fontSize={15} fill="#1a1a1a">{p.title}</text>
      {p.legend && <Legend />}
    </g>
  );
}

export default function App() {
  return (
    <svg width={932} height={698} viewBox="0 0 932 698" fontFamily={FONT}
      style={{ position: 'absolute', left: 0, top: 0, background: '#fff' }}>
      <defs>
        <linearGradient id="jetGrad" x1="0" x2="1" y1="0" y2="0">
          {d3.range(0, 1.0001, 0.05).map(t => (
            <stop key={t} offset={t} stopColor={jet(t)} />
          ))}
        </linearGradient>
      </defs>
      <rect x={0} y={0} width={932} height={698} fill="#fff" />
      {panels.map(p => <Panel key={p.key} p={p} />)}
      <text transform="translate(27,349) rotate(-90)" textAnchor="middle" fontSize={20} fill="#1a1a1a">
        Elevation [m to NAP]
      </text>
    </svg>
  );
}
